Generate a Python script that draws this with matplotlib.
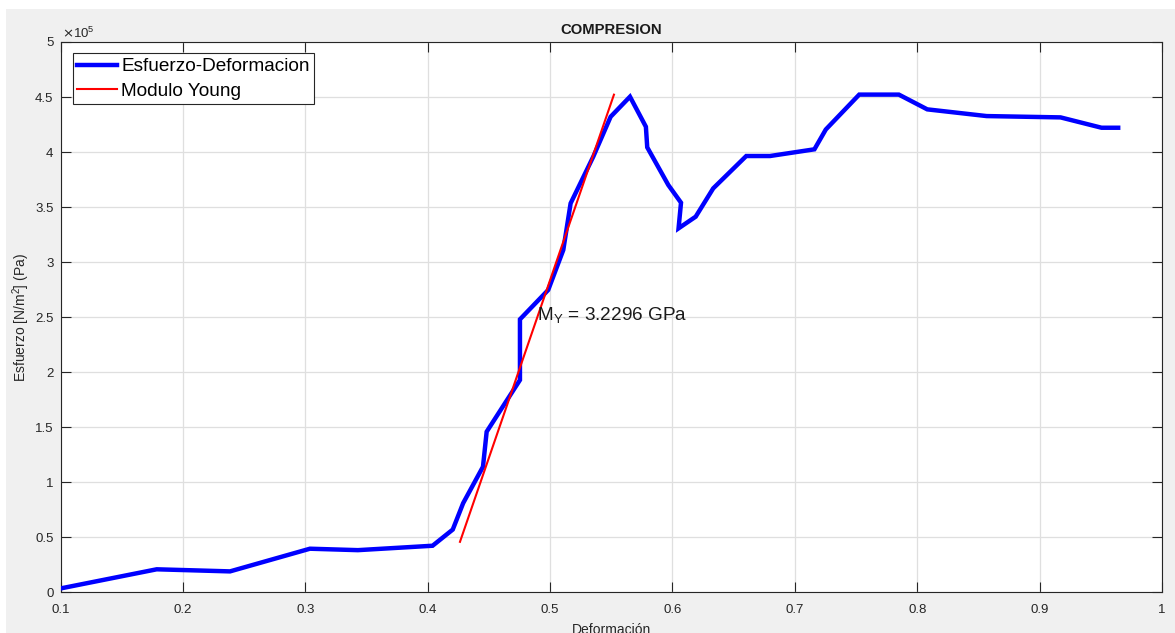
import matplotlib
matplotlib.use("Agg")
import matplotlib.pyplot as plt
from matplotlib.patches import Rectangle
from matplotlib.ticker import FuncFormatter

plt.rcParams['font.family'] = ['Liberation Sans', 'DejaVu Sans']

# Stress-strain curve (compression test)
deformacion = [0.100, 0.1786, 0.2385, 0.3038, 0.3430, 0.4040, 0.4205, 0.4290,
               0.4452, 0.4482, 0.4754, 0.4754, 0.4985, 0.5108, 0.5168, 0.5353,
               0.5495, 0.5653, 0.5783, 0.5794, 0.5966, 0.6070, 0.6050, 0.6190,
               0.6333, 0.6603, 0.6797, 0.7160, 0.7253, 0.7526, 0.7850, 0.8082,
               0.8567, 0.9171, 0.9506, 0.9642]
esfuerzo = [3500, 20900, 19000, 39600, 38300, 42300, 57000, 81000,
            114100, 145900, 192900, 248000, 274700, 311000, 353400, 395800,
            432100, 450300, 423000, 404300, 370100, 354000, 330700, 341300,
            367000, 396400, 396400, 402500, 420500, 452200, 452200, 438800,
            432700, 431500, 422100, 422100]

# Young's modulus fit
modulo_young = 3.2296e6
x_fit = [0.4264, 0.5522]
x_cero = 0.4122

x_ticks = [0.1, 0.2, 0.3, 0.4, 0.5, 0.6, 0.7, 0.8, 0.9, 1.0]
y_ticks = [0, 0.5e5, 1e5, 1.5e5, 2e5, 2.5e5, 3e5, 3.5e5, 4e5, 4.5e5, 5e5]

W, H = 1175, 633
fig = plt.figure(figsize=(W / 100, H / 100), dpi=100, facecolor='white')
fig.patches.append(Rectangle((6 / W, 0), 1 - 6 / W, 1 - 9 / H,
                             transform=fig.transFigure, facecolor='#f0f0f0',
                             edgecolor='none', zorder=-10))

ax = fig.add_axes([60.5 / W, 1 - 592.3 / H, (1162 - 60.5) / W, (592.3 - 42) / H])
ax.set_facecolor('white')

ax.plot(deformacion, esfuerzo, color='#0000ff', lw=3.2, label='Esfuerzo-Deformacion',
        solid_joinstyle='miter', zorder=3)
y_fit = [modulo_young * (x - x_cero) for x in x_fit]
ax.plot(x_fit, y_fit, color='#ff0000', lw=1.5, label='Modulo Young', zorder=4)

ax.text(0.4895, 2.51e5, r'M$_{\mathregular{Y}}$ = 3.2296 GPa', fontsize=13.7,
        va='center', ha='left', color='#1a1a1a', zorder=5)

ax.set_xlim(0.1, 1.0)
ax.set_ylim(0, 5e5)
ax.set_xticks(x_ticks)
ax.set_yticks(y_ticks)
ax.xaxis.set_major_formatter(FuncFormatter(lambda v, p: f'{v:g}'))
ax.yaxis.set_major_formatter(FuncFormatter(lambda v, p: f'{v / 1e5:g}'))

ax.grid(True, color='#dfdfdf', lw=0.9)
ax.set_axisbelow(True)
ax.tick_params(direction='in', length=7.5, width=0.8, colors='#262626',
               labelsize=9.5, top=True, right=True)
ax.tick_params(axis='x', pad=8.6)
ax.tick_params(axis='y', pad=5)
for s in ax.spines.values():
    s.set_color('#262626')
    s.set_linewidth(0.8)

ax.set_title('COMPRESION', fontsize=10.7, fontweight='bold', pad=6, color='#1a1a1a')
# the axis label sits low, partly below the bottom edge of the window
ax.set_xlabel('Deformación', fontsize=10, color='#262626', labelpad=5)
ax.set_ylabel(r'Esfuerzo [N/m$^{\mathregular{2}}$] (Pa)', fontsize=10, color='#262626',
              labelpad=2.5)
fig.text(62 / W, 1 - 33 / H, r'$\times$10$^{\mathregular{5}}$', fontsize=9.5,
         color='#262626', ha='left', va='center')

leg = ax.legend(loc='upper left', bbox_to_anchor=(12 / 1101.5, 1 - 11.3 / 550.3),
                borderaxespad=0, fontsize=13.7, fancybox=False, frameon=True,
                handlelength=2.1, handletextpad=0.2, labelspacing=0.36,
                borderpad=0.25)
leg.get_frame().set_edgecolor('#262626')
leg.get_frame().set_linewidth(0.8)
leg.get_frame().set_alpha(1)

fig.savefig('out.png', dpi=100, facecolor=fig.get_facecolor())
